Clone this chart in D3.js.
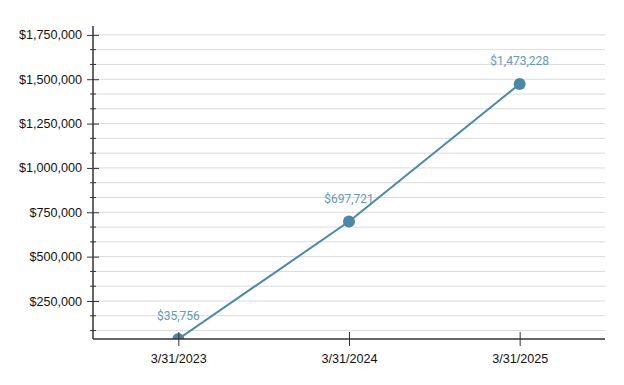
<!DOCTYPE html>
<html><head><meta charset="utf-8">
<script src="https://cdn.jsdelivr.net/npm/d3@7"></script>
<style>body{margin:0;background:#fff}svg{display:block}</style>
</head><body><svg id="c" width="624" height="385"></svg>
<script>
const dates = ["3/31/2023", "3/31/2024", "3/31/2025"];
const values = [35756, 697721, 1473228];
const yMajorTicks = [250000, 500000, 750000, 1000000, 1250000, 1500000, 1750000];
const yMin = 35756, yMax = 1800000;

const svg = d3.select("#c");
const L = 93, R = 605, T = 26, B = 339;
const x = d3.scalePoint().domain(dates).range([L, R]).padding(0.5);
const y = d3.scaleLinear().domain([yMin, yMax]).range([B, T]);
const minorStep = 250000 / 3;
const gridVals = d3.range(1, 22).map(i => i * minorStep).filter(v => v >= yMin && v <= yMax);

svg.append("g").selectAll("line").data(gridVals).join("line")
  .attr("x1", L).attr("x2", R).attr("y1", d => y(d)).attr("y2", d => y(d))
  .attr("stroke", "#dadada").attr("stroke-width", 1);

svg.append("clipPath").attr("id", "pc").append("rect")
  .attr("x", L).attr("y", 0).attr("width", R - L + 10).attr("height", B);

const ln = d3.line().x((d, i) => x(dates[i])).y(d => y(d));
const plot = svg.append("g").attr("clip-path", "url(#pc)");
plot.append("path").datum(values).attr("d", ln).attr("fill", "none")
  .attr("stroke", "#4b88a8").attr("stroke-width", 2);
plot.selectAll("circle").data(values).join("circle")
  .attr("cx", (d, i) => x(dates[i])).attr("cy", d => y(d)).attr("r", 6)
  .attr("fill", "#4b88a8");

svg.append("g").selectAll("text").data(values).join("text")
  .attr("x", (d, i) => x(dates[i])).attr("y", d => y(d) - 19)
  .attr("text-anchor", "middle").attr("font-family", "Roboto, sans-serif")
  .attr("font-size", 12).attr("fill", "#6398b9")
  .text(d => "$" + d3.format(",")(d));

// y axis
const ya = svg.append("g").attr("transform", `translate(${L},0)`)
  .call(d3.axisLeft(y).tickValues(yMajorTicks).tickSize(6).tickFormat(d => "$" + d3.format(",")(d)));
ya.select(".domain").attr("d", `M0,${T}V${B}`).attr("stroke", "#333").attr("stroke-width", 1.5);
ya.selectAll(".tick line").attr("x1", -6).attr("x2", 6).attr("stroke", "#333");
ya.selectAll(".tick text").attr("x", -11).attr("font-family", "'Liberation Sans', Arial, sans-serif").attr("font-size", 12.6).attr("fill", "#111");
const minor = gridVals.filter(v => !yMajorTicks.some(m => Math.abs(m - v) < 1));
svg.append("g").selectAll("line").data(minor).join("line")
  .attr("x1", L - 3).attr("x2", L + 3).attr("y1", d => y(d)).attr("y2", d => y(d))
  .attr("stroke", "#333");

// x axis
const xa = svg.append("g").attr("transform", `translate(0,${B})`)
  .call(d3.axisBottom(x).tickSize(7).tickPadding(8));
xa.select(".domain").attr("d", `M${L},0H${R}`).attr("stroke", "#333").attr("stroke-width", 1.5);
xa.selectAll(".tick line").attr("y1", -7).attr("stroke", "#333");
xa.selectAll(".tick text").attr("font-family", "'Liberation Sans', Arial, sans-serif").attr("font-size", 12.6).attr("fill", "#111");
</script></body></html>
